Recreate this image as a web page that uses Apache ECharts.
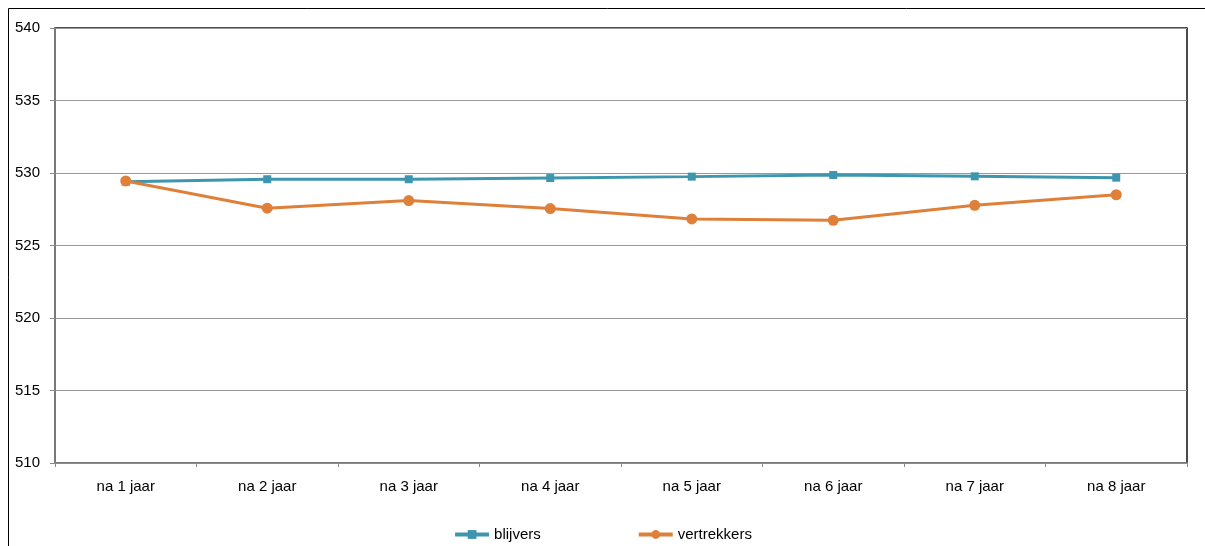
<!DOCTYPE html>
<html><head><meta charset="utf-8">
<script src="https://cdn.jsdelivr.net/npm/echarts@6/dist/echarts.min.js"></script>
<style>html,body{margin:0;padding:0;background:#fff}#c{width:1205px;height:546px}</style>
</head><body><div id="c"></div>
<script>
const categories = ['na 1 jaar','na 2 jaar','na 3 jaar','na 4 jaar','na 5 jaar','na 6 jaar','na 7 jaar','na 8 jaar'];
const blijvers = [529.4, 529.57, 529.57, 529.65, 529.75, 529.86, 529.77, 529.68];
const vertrekkers = [529.45, 527.57, 528.1, 527.55, 526.83, 526.74, 527.77, 528.5];
const yTicks = {min: 510, max: 540, interval: 5};

const chart = echarts.init(document.getElementById('c'), null, {renderer:'canvas'});
const font = 'Liberation Sans, Arial, sans-serif';
chart.setOption({
  animation:false,
  backgroundColor:'#fff',
  graphic:[{type:'rect', shape:{x:8.5,y:8.5,width:1400,height:800}, style:{fill:'none',stroke:'#000',lineWidth:1}, silent:true}],
  grid:{left:55,right:18,top:28,bottom:83,show:true,borderColor:'#111',borderWidth:1.5,backgroundColor:'transparent'},
  legend:{bottom:-1,left:'center',itemWidth:34,itemHeight:11,itemGap:96,
    lineStyle:{width:4},
    textStyle:{fontFamily:font,fontSize:15,color:'#000'},data:['blijvers','vertrekkers']},
  xAxis:{type:'category',data:categories,boundaryGap:true,
    axisLine:{lineStyle:{color:'#888',width:1.5}},
    axisTick:{show:true,length:4,lineStyle:{color:'#888'}},
    axisLabel:{fontFamily:font,fontSize:15,color:'#000',margin:16}},
  yAxis:{type:'value',min:yTicks.min,max:yTicks.max,interval:yTicks.interval,
    axisLine:{show:true,lineStyle:{color:'#888',width:1.5}},
    axisTick:{show:true,length:5,lineStyle:{color:'#888'}},
    axisLabel:{fontFamily:font,fontSize:15,color:'#000',margin:15},
    splitLine:{show:true,lineStyle:{color:'#999',width:1}}},
  series:[
    {name:'blijvers',type:'line',data:blijvers,color:'#3D96AE',symbol:'rect',symbolSize:8,
      lineStyle:{width:3},itemStyle:{color:'#3D96AE'}},
    {name:'vertrekkers',type:'line',data:vertrekkers,color:'#DE803A',symbol:'circle',symbolSize:11,
      lineStyle:{width:3},itemStyle:{color:'#DE803A'}}
  ]
});
</script></body></html>
